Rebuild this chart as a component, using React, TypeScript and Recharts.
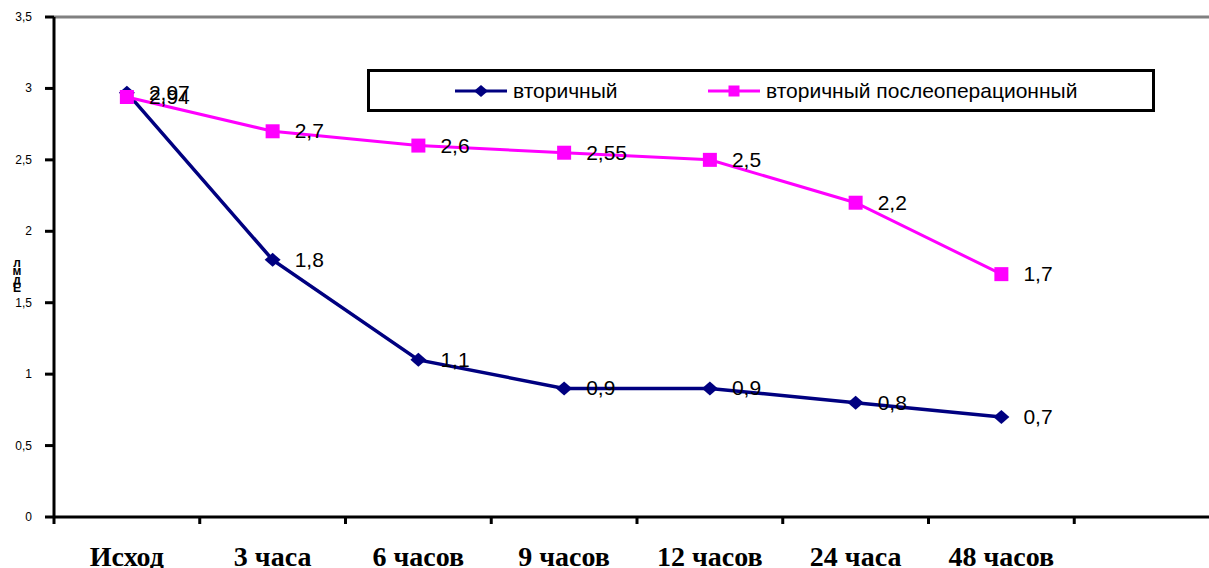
import React from 'react'
import { LineChart, Line, XAxis, YAxis, ReferenceLine, LabelList, Legend, Label } from 'recharts'

const CATEGORIES = ['Исход', '3 часа', '6 часов', '9 часов', '12 часов', '24 часа', '48 часов']
const SECONDARY = [2.97, 1.8, 1.1, 0.9, 0.9, 0.8, 0.7]
const SECONDARY_POSTOP = [2.94, 2.7, 2.6, 2.55, 2.5, 2.2, 1.7]
const Y_TICKS = [0, 0.5, 1, 1.5, 2, 2.5, 3, 3.5]
const Y_LABEL = ['л', 'м', 'д', 'Е']
// the original axis has one more (empty) slot on the right, cut by the frame
const SLOTS = 8

const NAVY = '#000080'
const MAGENTA = '#FF00FF'
const SANS = '"Liberation Sans", Arial, sans-serif'

const data = CATEGORIES.map((name, i) => ({
  pos: i + 0.5,
  name,
  secondary: SECONDARY[i],
  postop: SECONDARY_POSTOP[i],
}))
// whole numbers = slot edges (tick marks), halves = slot centres (labels)
const X_TICKS = Array.from({ length: SLOTS * 2 + 1 }, (_, i) => i / 2)

const comma = (v: number) => String(v).replace('.', ',')

const Diamond = ({ cx, cy, r = 8 }: any) => (
  <path d={`M${cx},${cy - r + 1} L${cx + r},${cy} L${cx},${cy + r - 1} L${cx - r},${cy} Z`} fill={NAVY} />
)
const Square = ({ cx, cy, s = 14 }: any) => (
  <rect x={cx - s / 2} y={cy - s / 2} width={s} height={s} fill={MAGENTA} />
)

const ValueLabel = ({ x, y, value }: any) => (
  <text x={x + 22} y={y + 7} fontSize={21} fontFamily={SANS} fill="#000">{comma(value)}</text>
)

const XTick = ({ x, y, payload }: any) => {
  const v = payload.value
  if (Number.isInteger(v)) {
    return <line x1={x} y1={y} x2={x} y2={y + 7} stroke="#000" strokeWidth={3} />
  }
  const name = CATEGORIES[Math.floor(v)]
  return (
    <text x={x} y={y + 49} textAnchor="middle" fontSize={28} fontWeight="bold"
      fontFamily='"Liberation Serif", "Times New Roman", serif' fill="#000">{name}</text>
  )
}

const YTick = ({ x, y, payload }: any) => (
  <g>
    <rect x={x - 9} y={y - 1.5} width={9} height={3} fill="#000" />
    <text x={x - 22} y={y + 4} textAnchor="end" fontSize={12} fontFamily={SANS} fill="#000">{comma(payload.value)}</text>
  </g>
)

const YTitle = ({ viewBox }: any) => {
  const cx = 17
  const cy = viewBox.y + viewBox.height * 0.5
  return (
    <g>
      {Y_LABEL.map((ch, i) => (
        <text key={ch} x={cx} y={cy + i * 8.3} textAnchor="middle" fontSize={12} fontWeight="bold" fontFamily={SANS} fill="#000">{ch}</text>
      ))}
    </g>
  )
}

const LEGEND_LEFT = [85, 338]

const LegendBox = ({ payload }: any) => (
  <div style={{ position: 'relative', width: 788, height: 43, border: '3px solid #000', boxSizing: 'border-box', background: '#fff' }}>
    {(payload || []).map((p: any, i: number) => (
      <div key={p.value} style={{ position: 'absolute', left: LEGEND_LEFT[i], top: 0, height: 37, display: 'flex', alignItems: 'center' }}>
        <svg width={52} height={16}>
          <line x1={0} y1={8} x2={52} y2={8} stroke={p.color} strokeWidth={3} />
          {i === 0 ? <Diamond cx={26} cy={8} r={7} /> : <Square cx={26} cy={8} s={11} />}
        </svg>
        <span style={{ marginLeft: 6, fontFamily: SANS, fontSize: 21, color: '#000' }}>{p.value}</span>
      </div>
    ))}
  </div>
)

export default function App() {
  return (
    <div style={{ position: 'absolute', left: 0, top: 0, width: 1209, height: 568, overflow: 'hidden', background: '#fff' }}>
      <LineChart width={1220} height={568} data={data} margin={{ top: 17, right: 0, bottom: 0, left: 0 }}>
        <XAxis type="number" dataKey="pos" domain={[0, SLOTS]} ticks={X_TICKS} interval={0}
          tickSize={0} tickMargin={0} tickLine={false} axisLine={{ stroke: '#000', strokeWidth: 3 }}
          height={51} tick={<XTick />} />
        <YAxis domain={[0, 3.5]} ticks={Y_TICKS} width={54} tickSize={0} tickMargin={0} interval={0}
          tickLine={false} tick={<YTick />} axisLine={{ stroke: '#000', strokeWidth: 3 }}>
          <Label content={<YTitle />} />
        </YAxis>
        <ReferenceLine y={3.5} stroke="#808080" strokeWidth={3} />
        <Legend layout="vertical" verticalAlign="middle" align="center" content={<LegendBox />}
          wrapperStyle={{ position: 'absolute', left: 367, top: 69, width: 788, height: 43 }} />
        <Line dataKey="secondary" name="вторичный" stroke={NAVY} strokeWidth={3.5}
          isAnimationActive={false}
          dot={(p: any) => <Diamond key={`d${p.index}`} cx={p.cx} cy={p.cy} />}
          activeDot={false}>
          <LabelList dataKey="secondary" content={<ValueLabel />} />
        </Line>
        <Line dataKey="postop" name="вторичный послеоперационный" stroke={MAGENTA} strokeWidth={3}
          isAnimationActive={false}
          dot={(p: any) => <Square key={`s${p.index}`} cx={p.cx} cy={p.cy} />}
          activeDot={false}>
          <LabelList dataKey="postop" content={<ValueLabel />} />
        </Line>
      </LineChart>
    </div>
  )
}
